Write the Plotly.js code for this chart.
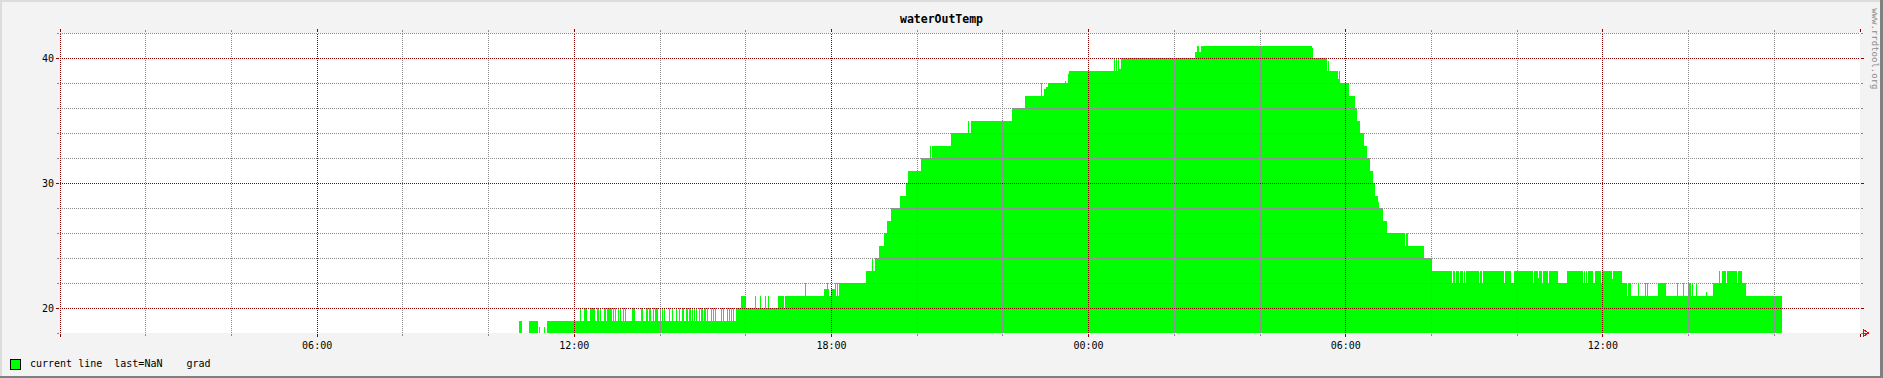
<!DOCTYPE html>
<html><head><meta charset="utf-8">
<script src="https://cdn.plot.ly/plotly-3.0.1.min.js"></script>
<style>
html,body{margin:0;padding:0;background:#f3f3f3;overflow:hidden}
#wrap{position:relative;width:1883px;height:378px}
#chart{position:absolute;left:0;top:0;width:1883px;height:378px}
.b{position:absolute}
.shapelayer path{shape-rendering:crispEdges}
.scatterlayer path{shape-rendering:crispEdges}
</style></head><body>
<div id="wrap"><div id="chart"></div>
<div class="b" style="left:0;top:0;width:1883px;height:2px;background:#dcdcdc"></div>
<div class="b" style="left:0;top:0;width:2px;height:378px;background:#dcdcdc"></div>
<div class="b" style="left:0;top:376px;width:1883px;height:2px;background:#808080"></div>
<div class="b" style="left:1880px;top:0;width:3px;height:378px;background:#808080"></div>
</div>
<script>
// step start times, minutes since 00:00 of day 1, and the value (grad) held from then on; null = no data
const tMin = [
  642.6,646.4,657.0,669.2,670.6,671.6,677.6,678.6,681.8,
  728.0,729.4,734.0,738.2,742.0,747.2,748.0,749.4,751.4,754.2,
  756.0,757.8,761.6,764.0,765.4,771.0,771.8,772.8,774.6,775.6,
  777.0,778.0,779.4,780.2,781.6,782.6,784.0,785.0,786.4,787.2,
  788.6,789.6,791.4,792.4,800.8,805.0,807.4,808.2,810.2,811.0,
  813.4,816.2,820.0,823.6,825.0,827.4,829.8,831.2,833.0,837.6,
  840.0,841.4,842.8,844.2,846.0,847.4,849.4,850.2,852.6,854.0,
  856.8,858.6,860.6,861.4,862.8,863.8,866.2,867.6,870.4,871.8,
  872.6,874.0,876.4,878.8,880.2,883.0,884.8,886.2,887.6,889.4,
  890.8,891.8,894.2,895.6,897.0,898.4,899.2,900.6,902.0,904.0,
  905.4,906.8,908.2,909.0,911.8,912.8,914.6,916.0,917.4,918.8,
  922.2,923.0,925.8,927.2,928.6,930.0,933.4,934.8,937.0,938.0,
  939.8,940.8,942.6,944.0,946.4,
  953.0,960.0,967.0,967.8,973.4,974.4,980.4,981.4,987.0,988.0,
  991.6,992.6,1005.6,1013.6,1015.0,1043.0,1044.0,1052.4,1053.2,1069.6,
  1074.2,1075.2,1076.6,1079.4,1085.0,1086.4,1088.2,1089.2,1090.6,1128.4,
  1136.4,1137.8,1141.0,1146.6,1153.6,1157.8,1163.4,1176.0,1184.4,1187.2,
  1205.4,1218.0,1219.4,1220.8,1247.4,1271.6,1273.0,1275.0,1332.8,1351.0,
  1373.4,1374.8,1377.6,1380.4,1383.2,1407.0,1408.4,1411.6,1413.0,1475.6,
  1477.0,1478.4,1479.8,1481.2,1482.6,1485.4,1589.0,1591.8,1594.6,1597.4,
  1752.8,1754.2,1773.8,1775.2,1776.2,1789.2,1790.6,1792.0,1804.6,1812.6,
  1815.4,1819.6,1825.2,1829.4,1833.6,1837.8,1840.6,1844.8,1846.2,1851.8,
  1857.4,1883.0,1884.4,1886.8,1909.2,1920.4,
  1948.4,1949.8,1953.0,1954.4,1959.0,1960.4,1964.6,1966.0,1967.0,1968.4,
  1973.6,1974.4,1986.6,1988.0,1990.4,1991.8,2021.6,2023.0,2031.8,2035.6,
  2062.6,2064.0,2068.8,2070.2,2074.4,2075.8,2082.8,2084.2,2096.8,2109.4,
  2132.6,2134.0,2135.4,2136.8,2137.8,2139.2,2146.6,2148.6,2157.0,2158.8,
  2172.4,2174.6,
  2186.4,2193.4,2194.8,2199.4,2209.6,2210.6,2214.4,2215.2,2219.0,2220.0,
  2222.2,2223.2,2237.6,2248.0,2263.4,2264.8,2272.6,2274.0,2278.8,2283.0,
  2284.4,2285.8,2290.0,2291.4,2304.4,2305.8,2314.2,2322.6,2324.0,2326.8,
  2332.4,2333.8,2347.8,2349.2,2354.8,2360.4,2410.8
];
const temp = [
  19,null,19,null,18.5,null,18.5,null,19,
  20,19,20,19,20,19,20,19,20,19,
  20,19,20,19,20,19,20,19,20,19,
  20,19,20,19,20,19,20,19,20,19,
  20,19,20,19,20,19,20,19,20,19,
  20,19,20,19,20,19,20,19,20,19,
  20,19,20,19,20,19,20,19,20,19,
  20,19,20,19,20,19,20,19,20,19,
  20,19,20,19,20,19,20,19,20,19,
  20,19,20,19,20,19,20,19,20,19,
  20,19,20,19,20,19,20,19,20,19,
  20,19,20,19,20,19,20,19,20,19,
  20,19,20,19,20,
  21,20,21,20,21,20,21,20,21,20,
  21,20,21,20,21,22,21,22,21,21.5,
  22,21.5,21,21.5,22,21,22,21,22,23,
  24,23,24,25,26,27,28,29,30,31,
  32,33,32,33,34,35,34,35,36,37,
  38,37,37.5,37.7,38,38.2,38,38.7,39,40,
  39,40,39,40,39.1,40,40.5,41,40.5,41,
  40.8,40,39,39.8,39,38.3,39,38,37,36,
  35,34,33,32,31,30,29,28.5,28,27,
  26,25,26,25,24,23,
  22,23,22,23,22,23,22,23,22,23,
  22,23,22,23,22,23,22,23,22,23,
  22,23,22.4,23,22,23,22,23,22,23,
  22,23,22,23,22,23,22,23,22,23,
  22.3,23,
  22,21,22,21,22,21,22,21,22,21,
  22,21,22,21,22,21,22,21,22,21,
  22,21,22,21,21.3,21,22,23,22,23,
  22,23,22,23,22,21,null
];

const xTickVals = [0,6,12,18,24,30,36,42];
const xTickText = ['', '06:00', '12:00', '18:00', '00:00', '06:00', '12:00', ''];
const yTickVals = [20,30,40];
const yTickText = ['20','30','40'];
const titleText = 'waterOutTemp';
const legendText = 'current line  last=NaN    grad';
const watermark = 'www.rrdtool.org';

// split into contiguous runs (gaps at null), each drawn as an explicit step outline
const segments = [];
let cur = null;
for (let i = 0; i < tMin.length - 1; i++) {
  const v = temp[i];
  if (v === null || v === undefined) { cur = null; continue; }
  if (!cur) { cur = {x: [], y: []}; segments.push(cur); }
  cur.x.push(tMin[i] / 60, tMin[i + 1] / 60);
  cur.y.push(v, v);
}

const traces = segments.map(s => ({
  x: s.x, y: s.y, type: 'scatter', mode: 'lines', line: {width: 0, color: '#00ff00'},
  fill: 'tozeroy', fillcolor: '#00ff00', hoverinfo: 'skip', showlegend: false
}));

const RED = '#8b0000', GRAY = '#8c8c8c';
const shapes = [];
const gridGray = [], gridRed = [];
for (let h = 0; h <= 42; h += 2) {
  const s = {type:'line', layer:'above', xref:'x', yref:'paper', x0:h, x1:h, y0:0, y1:1,
    line:{width:1, dash:'1px,1px', color: h % 6 === 0 ? RED : GRAY}};
  (h % 6 === 0 ? gridRed : gridGray).push(s);
}
for (let v = 18; v <= 42; v += 2) {
  const s = {type:'line', layer:'above', xref:'paper', yref:'y', x0:0, x1:1, y0:v, y1:v,
    line:{width:1, dash:'1px,1px', color: v % 10 === 0 ? RED : GRAY}};
  (v % 10 === 0 ? gridRed : gridGray).push(s);
}
shapes.push(...gridGray, ...gridRed);
shapes.push({type:'path', layer:'above', xref:'paper', yref:'paper', xsizemode:'pixel', ysizemode:'pixel',
  xanchor:1, yanchor:0, path:'M3,-3.5 L3,3.5 L9,0 Z M3,0 L9,0', line:{color:'#ff0000', width:1}, fillcolor:'rgba(0,0,0,0)'});
shapes.push({type:'rect', layer:'above', xref:'paper', yref:'paper', xsizemode:'pixel', ysizemode:'pixel',
  xanchor:0, yanchor:0, x0:-50, x1:-40, y0:-26, y1:-36, fillcolor:'#00ff00', line:{color:'#000', width:1}});

const mono = 'DejaVu Sans Mono, monospace';
const layout = {
  width:1883, height:378,
  margin:{l:60, r:23, t:33, b:45, pad:0},
  paper_bgcolor:'rgba(0,0,0,0)', plot_bgcolor:'#ffffff',
  showlegend:false,
  title:{text:titleText, x:0.5, xref:'container', xanchor:'center', y:1 - 19/378, yref:'container', yanchor:'middle',
    font:{family:mono, size:11.5, color:'#000', weight:'bold'}},
  xaxis:{range:[0,42], tickmode:'array', tickvals:xTickVals, ticktext:xTickText, showgrid:false, zeroline:false,
    showline:false, ticks:'outside', ticklen:3, tickwidth:1, tickcolor:RED, mirror:'ticks',
    tickfont:{family:mono, size:10, color:'#000'},
    minor:{tickmode:'linear', tick0:0, dtick:2, ticks:'outside', ticklen:2, tickcolor:GRAY, showgrid:false}},
  yaxis:{range:[18,42], tickmode:'array', tickvals:yTickVals, ticktext:yTickText, showgrid:false, zeroline:false,
    showline:false, ticks:'outside', ticklen:3, tickwidth:1, tickcolor:RED, mirror:'ticks',
    tickfont:{family:mono, size:10, color:'#000'},
    minor:{tickmode:'linear', tick0:18, dtick:2, ticks:'outside', ticklen:2, tickcolor:GRAY, showgrid:false}},
  shapes: shapes,
  annotations:[
    {text:legendText.replace(/ /g,'\u00a0'), xref:'paper', yref:'paper', x:-32/1800, y:-30.7/300, xanchor:'left', yanchor:'middle',
     showarrow:false, font:{family:mono, size:10, color:'#000'}},
    {text:watermark, textangle:90, xref:'paper', yref:'paper', x:(1875-60)/1800, y:(333.3-48.5)/300, xanchor:'center', yanchor:'middle',
     showarrow:false, font:{family:mono, size:9, color:'#8a8a8a'}}
  ]
};

Plotly.newPlot('chart', traces, layout, {staticPlot:true, displayModeBar:false});
</script>
</body></html>
